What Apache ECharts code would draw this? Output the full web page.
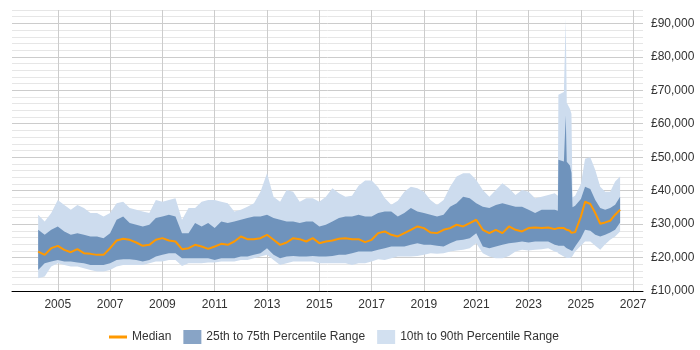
<!DOCTYPE html>
<html>
<head>
<meta charset="utf-8">
<script src="https://cdn.jsdelivr.net/npm/echarts@6/dist/echarts.min.js"></script>
<style>
  html, body { margin: 0; padding: 0; background: #fff; }
  #chart { width: 700px; height: 350px; }
</style>
</head>
<body>
<div id="chart"></div>
<script>
// sample dates as decimal years
const dates = [
  2004.25, 2004.5, 2004.75, 2005.0, 2005.25, 2005.5, 2005.75, 2006.0, 2006.25, 2006.5, 2006.75,
  2007.0, 2007.25, 2007.5, 2007.75, 2008.0, 2008.25, 2008.5, 2008.75, 2009.0, 2009.25, 2009.5, 2009.75,
  2010.0, 2010.25, 2010.5, 2010.75, 2011.0, 2011.25, 2011.5, 2011.75, 2012.0, 2012.25, 2012.5, 2012.75,
  2013.0, 2013.25, 2013.5, 2013.75, 2014.0, 2014.25, 2014.5, 2014.75, 2015.0, 2015.25, 2015.5, 2015.75,
  2016.0, 2016.25, 2016.5, 2016.75, 2017.0, 2017.25, 2017.5, 2017.75, 2018.0, 2018.25, 2018.5, 2018.75,
  2019.0, 2019.25, 2019.5, 2019.75, 2020.0, 2020.25, 2020.5, 2020.75, 2021.0, 2021.25, 2021.5, 2021.75,
  2022.0, 2022.25, 2022.5, 2022.75, 2023.0, 2023.25, 2023.5, 2023.75, 2024.0, 2024.12, 2024.14, 2024.35,
  2024.42, 2024.46, 2024.58, 2024.64, 2024.68, 2024.78, 2025.0, 2025.16, 2025.36, 2025.55, 2025.74,
  2025.93, 2026.12, 2026.31, 2026.5
]

// salary percentiles, £ thousands
const p10 = [
  13.8, 14.3, 17.3, 18.3, 17.8, 17.3, 17.3, 16.8, 16.3, 15.8, 15.8,
  16.3, 17.3, 17.8, 17.8, 17.8, 17.8, 18.3, 18.8, 18.8, 19.3, 19.3, 17.5,
  18.3, 18.3, 18.3, 18.5, 18.5, 18.8, 18.8, 18.8, 19.3, 19.3, 19.8, 20.3,
  20.8, 19.3, 17.8, 18.3, 18.8, 18.8, 18.8, 18.8, 18.3, 18.3, 18.3, 18.3,
  18.3, 17.8, 18.3, 18.3, 18.8, 19.5, 19.3, 19.8, 20.3, 20.3, 20.3, 20.5,
  20.8, 21.3, 21.1, 21.3, 21.8, 22.1, 22.3, 22.8, 24.3, 21.3, 20.3, 19.8,
  19.8, 20.5, 21.8, 22.3, 22.1, 22.3, 22.5, 22.8, 21.8, 21.5, 21.2, 20.3,
  20.0, 19.9, 19.9, 20.2, 20.5, 21.8, 23.5, 24.8, 24.8, 23.5, 22.3,
  24.0, 25.3, 26.3, 27.8
]
const p25 = [
  16.3, 18.3, 18.8, 19.3, 18.8, 18.8, 18.5, 18.3, 17.8, 17.8, 17.8,
  18.3, 19.3, 19.5, 19.5, 19.3, 18.8, 19.3, 20.3, 20.8, 21.3, 21.3, 19.8,
  19.8, 19.8, 19.8, 19.8, 19.3, 19.8, 19.8, 19.8, 20.3, 20.3, 20.8, 21.3,
  22.8, 20.8, 19.8, 20.3, 20.5, 20.3, 20.3, 20.5, 20.3, 20.3, 20.5, 20.8,
  20.8, 21.3, 21.8, 21.8, 21.8, 22.3, 22.8, 23.3, 23.3, 23.3, 23.8, 24.3,
  23.8, 23.8, 23.5, 23.3, 24.3, 25.1, 25.3, 25.8, 27.3, 23.3, 22.8, 23.3,
  23.8, 24.3, 24.5, 24.8, 24.5, 24.8, 24.8, 24.8, 23.8, 23.6, 23.5, 23.5,
  23.0, 22.8, 22.3, 22.0, 22.0, 23.3, 25.8, 28.3, 28.0, 26.8, 26.3,
  26.8, 27.5, 28.3, 30.5
]
const median = [
  21.8, 20.8, 22.8, 23.5, 22.3, 21.6, 22.5, 21.3, 21.1, 20.8, 20.8,
  22.8, 25.1, 25.6, 25.3, 24.5, 23.5, 23.8, 25.3, 25.8, 25.1, 24.8, 22.5,
  22.8, 23.8, 23.3, 22.6, 23.3, 24.1, 23.8, 24.8, 26.3, 25.5, 25.5, 25.8,
  26.8, 25.3, 23.8, 24.5, 25.8, 25.5, 24.8, 25.8, 24.3, 24.8, 25.1, 25.6,
  25.8, 25.5, 25.5, 24.6, 25.3, 27.3, 27.8, 26.8, 26.3, 27.3, 28.3, 29.3,
  28.8, 27.5, 27.3, 28.3, 28.8, 29.8, 29.3, 30.3, 31.3, 28.3, 27.3, 28.3,
  27.3, 29.3, 28.3, 27.8, 28.8, 29.0, 28.8, 29.0, 28.5, 28.8, 28.5, 28.8,
  28.5, 28.3, 28.0, 27.4, 27.4, 27.6, 32.2, 36.7, 36.0, 33.3, 30.1,
  30.5, 31.0, 32.8, 34.3
]
const p75 = [
  28.3, 26.8, 28.3, 29.3, 27.8, 26.8, 27.3, 26.8, 26.3, 26.3, 25.8,
  27.3, 31.3, 32.3, 30.3, 29.8, 29.3, 29.8, 31.8, 32.3, 32.8, 32.3, 27.3,
  27.3, 30.3, 29.3, 30.3, 28.8, 30.8, 30.3, 30.8, 31.3, 31.8, 32.3, 32.3,
  32.8, 31.8, 31.3, 30.8, 30.8, 30.3, 30.8, 30.8, 29.3, 29.8, 30.8, 31.8,
  32.3, 32.3, 32.8, 32.3, 32.3, 33.3, 33.8, 33.8, 32.3, 33.3, 34.8, 33.8,
  33.3, 32.8, 32.3, 32.8, 35.2, 36.2, 38.2, 37.7, 36.2, 35.2, 34.8, 35.7,
  36.2, 35.7, 35.2, 35.2, 34.3, 33.3, 34.3, 34.3, 34.3, 34.0, 49.2, 48.7,
  62.5, 48.6, 47.5, 45.3, 35.0, 35.5, 37.5, 41.2, 40.5, 37.2, 34.8,
  34.3, 34.8, 35.8, 38.2
]
const p90 = [
  32.8, 30.8, 33.3, 37.2, 35.7, 34.3, 35.7, 34.8, 33.3, 33.3, 32.3,
  33.3, 36.2, 36.7, 34.8, 34.3, 33.8, 33.3, 37.2, 36.7, 37.2, 37.7, 31.3,
  34.8, 34.8, 36.7, 37.2, 37.2, 36.7, 36.2, 33.8, 34.3, 35.2, 36.2, 39.7,
  45.2, 38.2, 36.7, 40.2, 39.7, 36.7, 37.7, 37.7, 36.7, 38.2, 40.7, 39.2,
  38.2, 38.5, 41.5, 43.0, 43.0, 41.0, 37.8, 35.8, 37.0, 39.7, 41.2, 40.7,
  39.7, 37.2, 35.7, 37.2, 41.2, 44.2, 45.2, 45.2, 43.2, 40.2, 38.2, 40.2,
  42.2, 40.7, 38.7, 40.2, 39.7, 37.7, 38.2, 38.7, 39.2, 38.5, 68.7, 69.5,
  91.5, 66.3, 64.5, 63.0, 38.0, 38.5, 42.0, 49.5, 50.0, 46.2, 41.2,
  39.7, 39.7, 42.7, 44.2
]

const LIGHT = '#cddcee'
const DARK = '#6f93bc'

const fmtMoney = (v) => '£' + String(v).replace(/\B(?=(\d{3})+(?!\d))/g, ',')

// band between two percentile arrays, drawn as one polygon through the axes
const bandSeries = (name, lo, hi, color, z) => ({
  name,
  type: 'custom',
  z,
  silent: true,
  itemStyle: { color },
  encode: { x: 0, y: [1, 2] },
  data: dates.map((d, i) => [d, lo[i] * 1000, hi[i] * 1000]),
  renderItem: (params, api) => {
    if (params.dataIndexInside !== 0) return null
    const n = params.dataInsideLength
    const top = []
    const bottom = []
    for (let i = 0; i < n; i++) {
      const x = api.value(0, i)
      top.push(api.coord([x, api.value(2, i)]))
      bottom.unshift(api.coord([x, api.value(1, i)]))
    }
    return {
      type: 'polygon',
      shape: { points: top.concat(bottom) },
      style: { fill: color }
    }
  }
})

const chart = echarts.init(document.getElementById('chart'))

chart.setOption({
  animation: false,
  textStyle: { fontFamily: 'Liberation Sans, Arial, sans-serif' },
  grid: { left: 12, right: 57, top: 10, bottom: 59 },
  legend: {
    left: 104,
    top: 325,
    itemWidth: 18,
    itemHeight: 14,
    itemGap: 12,
    textStyle: { color: '#333', fontSize: 12 },
    data: [
      { name: 'Median', icon: 'path://M0,6 L18,6 L18,9 L0,9 Z', itemStyle: { color: '#ff9900' } },
      { name: '25th to 75th Percentile Range', icon: 'rect', itemStyle: { color: '#88a4c6' } },
      { name: '10th to 90th Percentile Range', icon: 'rect', itemStyle: { color: '#d2e0f0' } }
    ]
  },
  xAxis: {
    type: 'value',
    min: 2003.25,
    max: 2027.375,
    interval: 0.25,
    axisLine: { lineStyle: { color: '#000', width: 1 } },
    axisTick: { show: false },
    axisLabel: {
      color: '#333',
      fontSize: 12,
      margin: 8,
      formatter: (v) => (Number.isInteger(v) && v % 2 === 1 ? String(v) : '')
    },
    splitLine: {
      show: true,
      lineStyle: {
        color: ['transparent', 'transparent', 'transparent', 'transparent',
                'transparent', 'transparent', 'transparent', '#cccccc']
      }
    }
  },
  yAxis: {
    type: 'value',
    position: 'right',
    min: 10000,
    max: 94000,
    interval: 2000,
    axisLine: { show: false },
    axisTick: { show: false },
    axisLabel: {
      color: '#333',
      fontSize: 12,
      margin: 8,
      formatter: (v) => (v % 10000 === 0 ? fmtMoney(v) : '')
    },
    splitLine: {
      lineStyle: { color: ['#cccccc', '#e6e6e6', '#e6e6e6', '#e6e6e6', '#e6e6e6'] }
    }
  },
  series: [
    bandSeries('10th to 90th Percentile Range', p10, p90, LIGHT, 1),
    bandSeries('25th to 75th Percentile Range', p25, p75, DARK, 2),
    {
      name: 'Median',
      type: 'line',
      symbol: 'none',
      z: 5,
      lineStyle: { color: '#ff9900', width: 2 },
      itemStyle: { color: '#ff9900' },
      data: dates.map((d, i) => [d, median[i] * 1000])
    }
  ]
})

window.addEventListener('resize', () => chart.resize())
</script>
</body>
</html>
